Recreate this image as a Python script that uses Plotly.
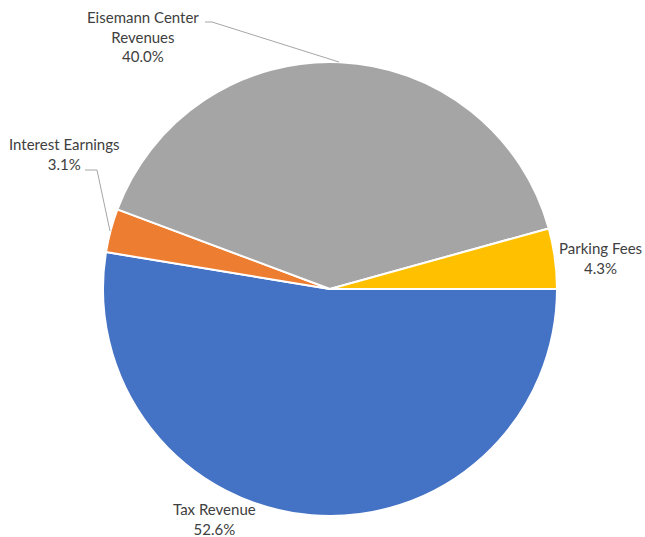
import plotly.graph_objects as go

# Revenue sources, listed clockwise from 3 o'clock
labels = ["Tax Revenue", "Interest Earnings", "Eisemann Center Revenues", "Parking Fees"]
shares = [52.6, 3.1, 40.0, 4.3]
colors = ["#4472C4", "#ED7D31", "#A5A5A5", "#FFC000"]

W, H = 645, 537
cx, cy, r = 330, 289, 227  # pie centre and radius in pixels


def px(x):
    return x / W


def py(y):
    return 1 - y / H


fig = go.Figure(
    go.Pie(
        labels=labels,
        values=shares,
        sort=False,
        direction="clockwise",
        rotation=90,
        marker=dict(colors=colors, line=dict(color="white", width=2)),
        textinfo="none",
        hoverinfo="label+percent",
        domain=dict(x=[px(cx - r), px(cx + r)], y=[py(cy + r), py(cy - r)]),
        showlegend=False,
    )
)

font = dict(family="Lato, Open Sans, sans-serif", size=15, color="#404040")

# label text (name + share) and where each label block is centred
label_text = {
    "Tax Revenue": "Tax Revenue",
    "Interest Earnings": "Interest Earnings",
    "Eisemann Center Revenues": "Eisemann Center<br>Revenues",
    "Parking Fees": "Parking Fees",
}
label_pos = {
    "Tax Revenue": (214, 519),
    "Interest Earnings": (64, 154),
    "Eisemann Center Revenues": (143, 37),
    "Parking Fees": (600, 258),
}

for name, val in zip(labels, shares):
    x, y = label_pos[name]
    fig.add_annotation(
        x=px(x), y=py(y), xref="paper", yref="paper",
        text=f"{label_text[name]}<br>{val:.1f}%",
        showarrow=False, font=font, align="center",
        xanchor="center", yanchor="middle",
    )

# leader lines for the labels placed away from their slices
leaders = [
    [(205, 22), (212, 22), (339, 62)],
    [(85, 170), (97, 170), (110, 231)],
]
for pts in leaders:
    path = "M " + " L ".join(f"{px(x)} {py(y)}" for x, y in pts)
    fig.add_shape(type="path", path=path, xref="paper", yref="paper",
                  line=dict(color="#A6A6A6", width=1))

fig.update_layout(
    width=W, height=H,
    margin=dict(l=0, r=0, t=0, b=0),
    paper_bgcolor="white",
    plot_bgcolor="white",
)

fig.write_html("out.html")
